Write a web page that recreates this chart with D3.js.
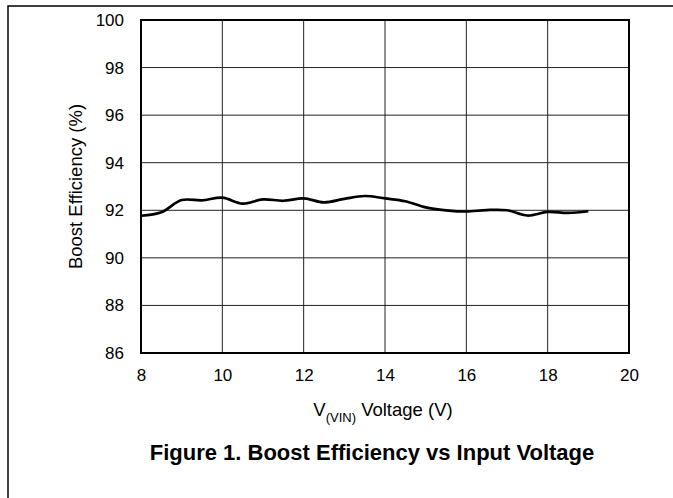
<!DOCTYPE html>
<html lang="en">
<head>
    <meta charset="UTF-8">
    <title>Boost Efficiency vs Input Voltage</title>
    <script src="https://d3js.org/d3.v7.min.js"></script>
    <style>
        body {
            margin: 0;
            font-family: "Liberation Sans", Arial, sans-serif;
            background: #fff;
        }
        .tick-label {
            font-size: 17px;
        }
        .axis-label {
            font-size: 18.5px;
        }
        .caption {
            font-size: 22px;
            font-weight: bold;
        }
    </style>
</head>
<body>

<div id="chart"></div>

<script>
// Values
const voltage = [8, 8.5, 9, 9.5, 10, 10.5, 11, 11.5, 12, 12.5, 13, 13.5, 14, 14.5, 15, 15.5, 16, 16.5, 17, 17.5, 18, 18.5, 19];
const efficiency = [91.77, 91.92, 92.43, 92.42, 92.53, 92.28, 92.46, 92.40, 92.50, 92.33, 92.48, 92.60, 92.50, 92.38, 92.12, 92.00, 91.95, 92.01, 92.00, 91.78, 91.93, 91.89, 91.96];
const xTicks = [8, 10, 12, 14, 16, 18, 20];
const yTicks = [86, 88, 90, 92, 94, 96, 98, 100];

const W = 673, H = 498;
const margin = { top: 20, right: 44, bottom: 145, left: 141 };
const width = W - margin.left - margin.right;
const height = H - margin.top - margin.bottom;

const svg = d3.select("#chart")
    .append("svg")
    .attr("width", W)
    .attr("height", H);

// Page frame (top and left edges only)
svg.append("path")
    .attr("d", `M8,${H} V6 H${W}`)
    .attr("fill", "none")
    .attr("stroke", "#000")
    .attr("stroke-width", 1.5);

const g = svg.append("g")
    .attr("transform", `translate(${margin.left},${margin.top})`);

const x = d3.scaleLinear().domain([8, 20]).range([0, width]);
const y = d3.scaleLinear().domain([86, 100]).range([height, 0]);

// Grid
g.append("g")
    .selectAll("line")
    .data(xTicks.slice(1, -1))
    .join("line")
    .attr("x1", d => x(d)).attr("x2", d => x(d))
    .attr("y1", 0).attr("y2", height)
    .attr("stroke", "#222")
    .attr("stroke-width", 1);

g.append("g")
    .selectAll("line")
    .data(yTicks.slice(1, -1))
    .join("line")
    .attr("x1", 0).attr("x2", width)
    .attr("y1", d => y(d)).attr("y2", d => y(d))
    .attr("stroke", "#222")
    .attr("stroke-width", 1);

// Axes with labels only
const xAxis = g.append("g")
    .attr("transform", `translate(0,${height})`)
    .call(d3.axisBottom(x).tickValues(xTicks).tickSize(0).tickPadding(16));
const yAxis = g.append("g")
    .call(d3.axisLeft(y).tickValues(yTicks).tickSize(0).tickPadding(17));
[xAxis, yAxis].forEach(a => {
    a.select(".domain").remove();
    a.selectAll("text")
        .attr("class", "tick-label")
        .attr("font-family", "Liberation Sans, Arial, sans-serif")
        .attr("fill", "#000");
});

// Data line
const line = d3.line()
    .x((d, i) => x(voltage[i]))
    .y(d => y(d))
    .curve(d3.curveCatmullRom.alpha(0.5));

g.append("path")
    .datum(efficiency)
    .attr("fill", "none")
    .attr("stroke", "#000")
    .attr("stroke-width", 2.7)
    .attr("d", line);

// Plot border
g.append("rect")
    .attr("width", width)
    .attr("height", height)
    .attr("fill", "none")
    .attr("stroke", "#000")
    .attr("stroke-width", 2);

// Axis titles
const xt = g.append("text")
    .attr("class", "axis-label")
    .attr("x", width / 2 - 2)
    .attr("y", height + 63)
    .attr("text-anchor", "middle");
xt.append("tspan").text("V");
xt.append("tspan").attr("dy", 6).style("font-size", "13px").text("(VIN)");
xt.append("tspan").attr("dy", -6).text(" Voltage (V)");

g.append("text")
    .attr("class", "axis-label")
    .attr("transform", "rotate(-90)")
    .attr("x", -height / 2)
    .attr("y", -59)
    .attr("text-anchor", "middle")
    .text("Boost Efficiency (%)");

// Figure caption
svg.append("text")
    .attr("class", "caption")
    .attr("x", 372)
    .attr("y", 460)
    .attr("text-anchor", "middle")
    .text("Figure 1. Boost Efficiency vs Input Voltage");
</script>

</body>
</html>
